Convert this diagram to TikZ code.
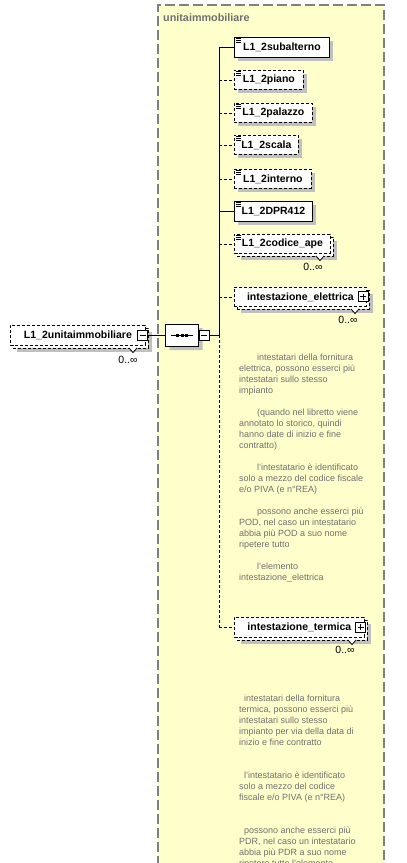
\documentclass[tikz,border=0pt]{standalone}
\usepackage{fontspec}
\setmainfont{Liberation Sans}
\usetikzlibrary{shapes.misc,shadows}
\definecolor{bgyellow}{RGB}{255,255,204}
\definecolor{framegray}{RGB}{128,128,128}
\definecolor{shgray}{RGB}{192,192,192}
\definecolor{txtgray}{RGB}{112,112,112}
\tikzset{
  elem/.style={draw=black, fill=white, line width=0.8pt, font=\fontsize{10.5}{12}\selectfont\bfseries,
    inner sep=0pt, anchor=north west, minimum height=19pt},
  dropsh/.style={general shadow={fill=shgray, shadow xshift=4pt, shadow yshift=-4pt}},
  reqbox/.style={elem, dropsh},
  optbox/.style={elem, dash pattern=on 3pt off 2pt, dropsh},
  multibox/.style={elem, dash pattern=on 3pt off 2pt,
    general shadow={fill=shgray, shadow xshift=7pt, shadow yshift=-7pt},
    general shadow={fill=white, draw=black, line width=0.8pt, dash pattern=on 3pt off 2pt, shadow xshift=3pt, shadow yshift=-3pt}},
  icon/.style={draw=black, fill=white, line width=0.8pt, minimum size=10pt, inner sep=0pt},
  seqshape/.style={chamfered rectangle, chamfered rectangle xsep=6pt, chamfered rectangle ysep=6pt,
    draw=black, fill=white, line width=0.8pt, minimum width=33pt, minimum height=22pt, inner sep=0pt, dropsh},
  conn/.style={draw=black, line width=0.8pt},
  optconn/.style={conn, dash pattern=on 3pt off 2pt},
  mult/.style={font=\fontsize{10.5}{12}\selectfont, inner sep=0pt, text=black},
  anno/.style={font=\fontsize{9}{11}\selectfont, text=txtgray, anchor=base west, inner sep=0pt},
  notch/.style={draw=black, fill=white, line width=0.8pt}
}
\newcommand\docicon[1]{\draw[line width=0.6pt, shift={(#1.north west)}] (2,1.5)--(7,1.5) (2,3.5)--(7,3.5) (2,5.5)--(7,5.5);}
\newcommand\notchat[2]{\path[notch] (#1-4,#2) -- (#1,#2+4.5) -- (#1+4,#2);}
\begin{document}
\begin{tikzpicture}[x=1pt,y=-1pt]
\useasboundingbox (0,0) rectangle (407,863);
\clip (0,0) rectangle (407,863);
% background group
\fill[bgyellow] (158,5) rectangle (384,880);
\draw[framegray, line width=1.5pt, dash pattern=on 10pt off 4pt] (158,880) -- (158,5) -- (384,5) -- (384,880);
\node[font=\fontsize{10.8}{12}\selectfont\bfseries, text=txtgray, anchor=base west, inner sep=0pt] (title) at (163,21.5) {unitaimmobiliare};

% root element
\node[multibox, minimum width=135pt, minimum height=20pt] (root) at (10,325) {L1\_2unitaimmobiliare\hspace{7pt}};
\notchat{133}{348}
\node[mult] (rootm) at (128,360) {0..∞};
\node[icon] (rootmin) at (142.5,335) {};
\draw[line width=0.8pt] ([xshift=-3pt]rootmin.center) -- ([xshift=3pt]rootmin.center);

% sequence
\node[seqshape] (seq) at (182,335) {};
\draw[line width=0.8pt] ([xshift=-11pt]seq.center) -- ([xshift=11pt]seq.center);
\foreach \dx in {-4.5,0,4.5} \fill[black] ([xshift=\dx pt-1.5pt, yshift=-1.5pt]seq.center) rectangle ([xshift=\dx pt+1.5pt, yshift=1.5pt]seq.center);
\node[icon] (seqmin) at (204,335) {};
\draw[line width=0.8pt] ([xshift=-3pt]seqmin.center) -- ([xshift=3pt]seqmin.center);
\coordinate (tr) at (219,335);

\draw[conn] (rootmin.east) -- (seq.west);
\draw[conn] (seqmin.east) -- (tr);

% children
\node[reqbox, minimum width=95pt, minimum height=20pt] (sub) at (234,37) {L1\_2subalterno};
\node[optbox, minimum width=69pt] (piano) at (234,70) {L1\_2piano};
\node[optbox, minimum width=78pt] (palazzo) at (234,103) {L1\_2palazzo};
\node[optbox, minimum width=64pt] (scala) at (234,135) {L1\_2scala};
\node[optbox, minimum width=77pt] (interno) at (234,169) {L1\_2interno};
\node[reqbox, minimum width=78pt, minimum height=20pt] (dpr) at (234,201) {L1\_2DPR412};
\node[multibox, minimum width=96pt] (ape) at (234,234) {L1\_2codice\_ape};
\notchat{320}{256}
\node[mult] (apem) at (313,267) {0..∞};
\node[multibox, minimum width=132pt] (elet) at (234,287) {intestazione\_elettrica\hspace{6pt}};
\notchat{355}{309}
\node[mult] (eletm) at (348,320) {0..∞};
\node[icon] (eletplus) at (363,296.5) {};
\draw[line width=0.8pt] ([xshift=-3pt]eletplus.center) -- ([xshift=3pt]eletplus.center) ([yshift=-3pt]eletplus.center) -- ([yshift=3pt]eletplus.center);
\node[multibox, minimum width=130pt, minimum height=20pt] (term) at (234,617) {intestazione\_termica\hspace{7pt}};
\notchat{352}{640}
\node[mult] (termm) at (345,650) {0..∞};
\node[icon] (termplus) at (360.5,627) {};
\draw[line width=0.8pt] ([xshift=-3pt]termplus.center) -- ([xshift=3pt]termplus.center) ([yshift=-3pt]termplus.center) -- ([yshift=3pt]termplus.center);

\foreach \n in {sub,piano,palazzo,scala,interno,dpr,ape} {\docicon{\n}}

% trunk and branches
\draw[conn] (tr) -- (tr |- sub.west);
\draw[optconn] (tr) -- (tr |- term.west);
\draw[conn] (tr |- sub.west) -- (sub.west);
\draw[conn] (tr |- dpr.west) -- (dpr.west);
\foreach \n in {piano,palazzo,scala,interno,ape,elet,term} {\draw[optconn] (tr |- \n.west) -- (\n.west);}

% annotation of intestazione_elettrica
\node[anno] (e1) at (257,360) {intestatari della fornitura};
\node[anno] (e2) at (239,371) {elettrica, possono esserci più};
\node[anno] (e3) at (239,382) {intestatari sullo stesso};
\node[anno] (e4) at (239,393) {impianto};
\node[anno] (e5) at (257,415) {(quando nel libretto viene};
\node[anno] (e6) at (239,426) {annotato lo storico, quindi};
\node[anno] (e7) at (239,437) {hanno date di inizio e fine};
\node[anno] (e8) at (239,448) {contratto)};
\node[anno] (e9) at (257,470) {l'intestatario è identificato};
\node[anno] (e10) at (239,481) {solo a mezzo del codice fiscale};
\node[anno] (e11) at (239,492) {e/o PIVA (e n°REA)};
\node[anno] (e12) at (257,514) {possono anche esserci più};
\node[anno] (e13) at (239,525) {POD, nel caso un intestatario};
\node[anno] (e14) at (239,536) {abbia più POD a suo nome};
\node[anno] (e15) at (239,547) {ripetere tutto};
\node[anno] (e16) at (257,569) {l'elemento};
\node[anno] (e17) at (239,580) {intestazione\_elettrica};

% annotation of intestazione_termica
\node[anno] (t1) at (244,701.5) {intestatari della fornitura};
\node[anno] (t2) at (239,712.5) {termica, possono esserci più};
\node[anno] (t3) at (239,723.5) {intestatari sullo stesso};
\node[anno] (t4) at (239,734.5) {impianto per via della data di};
\node[anno] (t5) at (239,745.5) {inizio e fine contratto};
\node[anno] (t6) at (244,778) {l'intestatario è identificato};
\node[anno] (t7) at (239,789) {solo a mezzo del codice};
\node[anno] (t8) at (239,800) {fiscale e/o PIVA (e n°REA)};
\node[anno] (t9) at (244,833) {possono anche esserci più};
\node[anno] (t10) at (239,844) {PDR, nel caso un intestatario};
\node[anno] (t11) at (239,855) {abbia più PDR a suo nome};
\node[anno] (t12) at (239,866) {ripetere tutto l'elemento};
\end{tikzpicture}
\end{document}
